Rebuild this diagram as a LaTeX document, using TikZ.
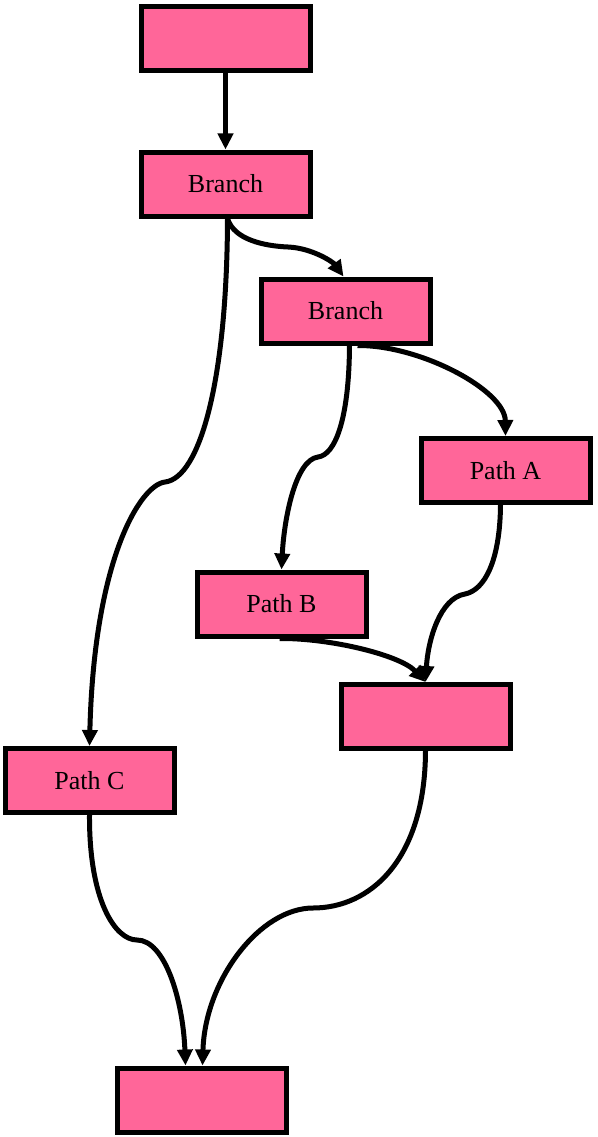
\documentclass[tikz,border=0pt]{standalone}
\usepackage{fontspec}
\setmainfont{Liberation Serif}
\usetikzlibrary{arrows.meta}
\definecolor{boxpink}{HTML}{FF6699}
\begin{document}
\begin{tikzpicture}[x=1pt,y=-1pt,
  box/.style={draw=black, line width=5pt, fill=boxpink, minimum width=169pt,
    minimum height=64pt, inner sep=0pt, font=\fontsize{26}{30}\selectfont},
  edge/.style={draw=black, line width=5pt, -{Triangle[length=16pt,width=15pt]}}]
\useasboundingbox (0,0) rectangle (597,1137);
\node[box] (n1) at (225.5,39) {};
\node[box] (b1) at (225.5,184) {Branch};
\node[box] (b2) at (345.5,311) {Branch};
\node[box] (pa) at (505.5,470.5) {Path A};
\node[box] (pb) at (281.5,604) {Path B};
\node[box] (n6) at (425.5,716.5) {};
\node[box] (pc) at (89.5,780.5) {Path C};
\node[box] (bot) at (201.5,1100) {};

\draw[edge] (n1) -- (b1);
\draw[edge] ([xshift=2pt]b1.south) .. controls (234,240) and (265,246) .. (288,247)
  .. controls (312,248) and (333,262) .. ([xshift=-2pt]b2.north);
\draw[edge] ([xshift=2pt]b1.south) .. controls (227,380) and (200,478) .. (165,482)
  .. controls (140,485) and (94,560) .. (pc.north);
\draw[edge] ([xshift=4pt]b2.south) .. controls (349,420) and (335,455) .. (318,457)
  .. controls (295,460) and (284,520) .. ([xshift=0pt]pb.north);
\draw[edge] ([xshift=12pt]b2.south) .. controls (420,345) and (505,390) .. (pa.north);
\draw[edge] ([xshift=-5pt]pa.south) .. controls (500,560) and (485,590) .. (465,594)
  .. controls (440,598) and (428,640) .. (n6.north);
\draw[edge] ([xshift=-2pt]pb.south) .. controls (330,638) and (400,655) .. (n6.north);
\draw[edge] (n6.south) .. controls (425,860) and (370,908) .. (313,908)
  .. controls (260,908) and (205,980) .. ([xshift=1pt]bot.north);
\draw[edge] (pc.south) .. controls (89,900) and (115,940) .. (137,940)
  .. controls (165,940) and (183,1000) .. ([xshift=-16pt]bot.north);
\end{tikzpicture}
\end{document}
